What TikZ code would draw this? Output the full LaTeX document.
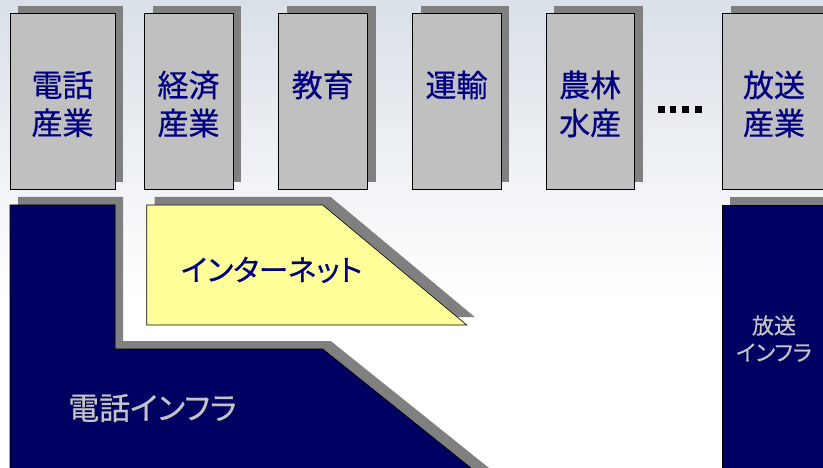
\documentclass[tikz,border=0pt]{standalone}
\usepackage{fontspec}
\setmainfont{Noto Sans CJK JP}[RawFeature=+palt,FakeBold=0.6]
\usetikzlibrary{shadows}
\definecolor{bgtop}{HTML}{DAE0E8}
\definecolor{boxgray}{HTML}{C0C0C0}
\definecolor{shd}{HTML}{808080}
\definecolor{navy}{HTML}{000062}
\definecolor{txtnavy}{HTML}{000080}
\definecolor{pale}{HTML}{FFFF99}
\definecolor{lighttxt}{HTML}{C4C4C4}
\tikzset{
  shd/.style={drop shadow={shadow xshift=8pt,shadow yshift=8pt,opacity=1,fill=shd}},
  topbox/.style={draw=black,line width=0.8pt,fill=boxgray,shd,anchor=north west,minimum height=176pt,inner sep=0pt},
  boxlbl/.style={text=txtnavy,align=center,font=\fontsize{31}{38}\selectfont,inner sep=0pt},
  infra/.style={draw=black,line width=0.6pt,fill=navy,shd},
  dot/.style={fill=black,minimum size=6.5pt,inner sep=0pt}
}
\begin{document}
\begin{tikzpicture}[x=1pt,y=-1pt]
\useasboundingbox (0,0) rectangle (823,468);
\clip (0,0) rectangle (823,468);
\fill[white] (0,0) rectangle (823,468);
\shade[top color=bgtop,bottom color=white] (0,0) rectangle (823,300);
% top boxes
\node[topbox,minimum width=105pt] (b1) at (10,13.3) {};
\node[topbox,minimum width=88.4pt] (b2) at (144.3,13.3) {};
\node[topbox,minimum width=89pt] (b3) at (278.3,13.3) {};
\node[topbox,minimum width=88.4pt] (b4) at (412.3,13.3) {};
\node[topbox,minimum width=88.3pt] (b5) at (546,13.3) {};
\node[topbox,minimum width=104pt] (b6) at (722.3,13.3) {};
\node[boxlbl] (l1) at (62.5,104) {電話\\産業};
\node[boxlbl] (l2) at (188.5,104) {経済\\産業};
\node[boxlbl] (l3) at (322.8,85) {教育};
\node[boxlbl] (l4) at (456.5,85) {運輸};
\node[boxlbl] (l5) at (590.2,104) {農林\\水産};
\node[boxlbl] (l6) at (774,104) {放送\\産業};
% dots
\foreach \i/\x in {1/661.3,2/673,3/685.7,4/698.3}
  \node[dot] (d\i) at (\x,109.3) {};
% infrastructure shapes
\path[infra] (10,205) -- (115,205) -- (115,349) -- (322.7,349) -- (486,480) -- (10,480) -- cycle;
\path[draw=black,line width=0.6pt,fill=pale,shd] (146.7,205) -- (322.7,205) -- (466.7,325) -- (146.7,325) -- cycle;
\path[infra] (722.3,205) rectangle (830,480);
\node[text=txtnavy,font=\fontsize{29.5}{30}\selectfont,inner sep=0pt] (inet) at (271.7,270) {インターネット};
\node[text=lighttxt,font=\fontsize{31}{30}\selectfont,inner sep=0pt] (tel) at (152.5,408) {電話インフラ};
\node[text=lighttxt,align=center,font=\fontsize{22}{27}\selectfont,inner sep=0pt] (bc) at (774,338.5) {放送\\インフラ};
\end{tikzpicture}
\end{document}
